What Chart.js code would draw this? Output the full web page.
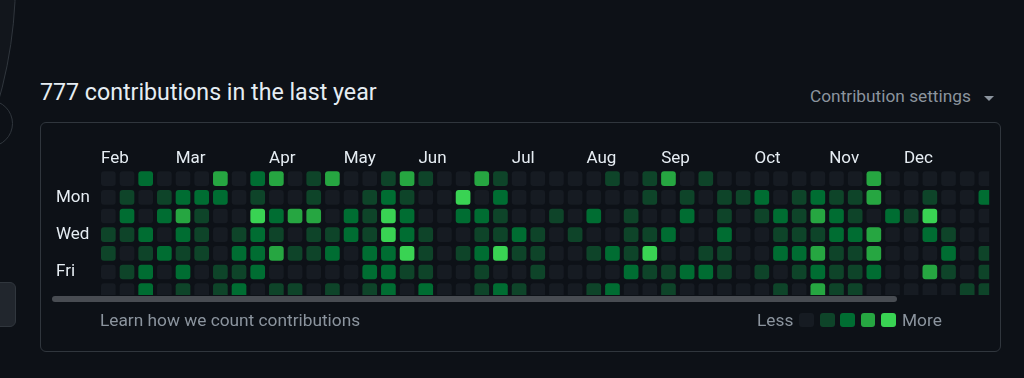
<!DOCTYPE html>
<html>
<head>
<meta charset="utf-8">
<title>Contributions</title>
<script src="https://cdn.jsdelivr.net/npm/chart.js@4/dist/chart.umd.min.js"></script>
<style>
  html, body { margin: 0; padding: 0; width: 1024px; height: 378px; overflow: hidden; background: #0d1117; font-family: Roboto, "Noto Sans", sans-serif; }
  .abs { position: absolute; box-sizing: border-box; }
  #avatar { left: -866px; top: -461px; width: 882px; height: 882px; border-radius: 50%; border: 1px solid #30363d; background: #12161c; }
  #status { left: -34px; top: 100px; width: 47px; height: 47px; border-radius: 50%; border: 1px solid #30363d; }
  #btn { left: -8px; top: 282px; width: 24px; height: 45px; border-radius: 6px; border: 1px solid #30363d; background: #21262d; }
  #box { left: 40px; top: 122px; width: 961px; height: 230px; border: 1px solid #30363d; border-radius: 6px; }
  .txt { white-space: nowrap; line-height: 1; }
  #title { left: 40px; top: 81px; font-size: 23.2px; line-height: 23px; color: #e6edf3; }
  #settings { left: 810px; top: 88px; font-size: 17.3px; line-height: 17px; color: #8b949e; }
  #caret { left: 984px; top: 96px; width: 0; height: 0; border-left: 5.5px solid transparent; border-right: 5.5px solid transparent; border-top: 5.5px solid #8b949e; }
  .small { font-size: 17.3px; line-height: 17.3px; color: #8b949e; top: 312px; }
  #learn { left: 100px; }
  #less { left: 757px; }
  #more { left: 902px; }
  .sw { top: 312.7px; width: 14.7px; height: 14.7px; border-radius: 3px; }
  #scroll { left: 52px; top: 296px; width: 845px; height: 5.5px; border-radius: 3px; background: #484c52; }
  #chart { position: absolute; left: 0; top: 0; }
</style>
</head>
<body>
<div class="abs" id="avatar"></div>
<div class="abs" id="status"></div>
<div class="abs" id="btn"></div>
<div class="abs" id="box"></div>
<div class="abs txt" id="title">777 contributions in the last year</div>
<div class="abs txt" id="settings">Contribution settings</div>
<div class="abs" id="caret"></div>
<canvas id="chart" width="1024" height="378"></canvas>
<div class="abs" id="scroll"></div>
<div class="abs txt small" id="learn">Learn how we count contributions</div>
<div class="abs txt small" id="less">Less</div>
<div class="abs txt small" id="more">More</div>
<script>
  // month label -> week column where it starts
  var months = ['Feb', 'Mar', 'Apr', 'May', 'Jun', 'Jul', 'Aug', 'Sep', 'Oct', 'Nov', 'Dec'];
  var monthStartWeeks = [0, 4, 9, 13, 17, 22, 26, 30, 35, 39, 43];

  var dayLabels = ['Sun', 'Mon', 'Tue', 'Wed', 'Thu', 'Fri', 'Sat'];
  var shownDays = ['Mon', 'Wed', 'Fri'];

  // contribution level (0..4) per week, one array per weekday
  var sunLevels = [0,0,2,0,0,0,3,0,2,3,0,1, 3,0,0,1,3,1,0,0,3,1,0,0, 0,0,0,1,0,1,3,0,1,0,0,0, 0,0,0,0,0,3,0,0,0,0,0,0];
  var monLevels = [0,1,0,1,2,2,2,0,1,0,0,1, 0,0,1,2,1,0,0,4,0,2,0,0, 0,0,0,0,0,1,0,1,0,1,1,2, 0,1,2,1,1,3,0,0,1,0,0,2];
  var tueLevels = [0,2,0,2,3,1,0,0,4,2,3,3, 0,2,1,4,2,0,0,2,2,1,0,0, 1,0,2,0,1,0,0,2,0,1,0,1, 2,1,3,2,1,0,2,1,4,0,0,0];
  var wedLevels = [1,1,2,0,2,1,0,1,2,1,0,1, 1,2,1,4,2,1,0,0,1,1,2,1, 0,1,0,0,1,1,2,0,0,2,0,0, 1,1,1,2,2,3,0,0,2,1,0,0];
  var thuLevels = [1,0,1,2,1,1,0,2,2,3,1,1, 2,0,2,2,4,1,0,1,2,4,1,1, 0,0,1,2,1,4,0,0,1,1,0,0, 2,2,3,1,1,3,0,0,0,2,0,1];
  var friLevels = [0,1,2,0,2,0,1,1,2,0,0,0, 0,0,2,2,1,1,0,0,1,0,0,1, 0,0,0,0,2,1,1,2,2,1,0,1, 0,1,2,1,1,2,0,0,3,1,0,1];
  var satLevels = [0,0,2,0,1,0,1,2,0,1,1,0, 1,0,1,2,0,2,0,0,1,2,1,0, 0,0,1,2,0,0,1,0,0,0,0,0, 1,0,3,1,1,0,0,0,0,0,1,1];

  var levelColors = ['#161b22', '#0e4429', '#006d32', '#26a641', '#39d353'];

  /**
   * legend swatches
   */
  var swatchLeft = [799.3, 820, 840, 860.7, 881];
  levelColors.forEach(function (c, i) {
    var d = document.createElement('div');
    d.className = 'abs sw';
    d.style.left = swatchLeft[i] + 'px';
    d.style.background = c;
    document.body.appendChild(d);
  });

  Chart.defaults.font.family = 'Roboto, "Noto Sans", sans-serif';

  var weeks = sunLevels.map(function (v, i) { return 'W' + (i + 1); });
  var rows = [sunLevels, monLevels, tueLevels, wedLevels, thuLevels, friLevels, satLevels];
  var half = 0.393; // half a cell, in row units

  var datasets = rows.map(function (levels, day) {
    return {
      label: dayLabels[day],
      data: levels.map(function () { return [day - half, day + half]; }),
      backgroundColor: levels.map(function (l) { return levelColors[l]; }),
      borderRadius: 3,
      borderSkipped: false,
      grouped: false,
      categoryPercentage: 1,
      barPercentage: 0.786,
      clip: { left: 0, top: 0, right: -6, bottom: -5 }
    };
  });

  var ctx = document.getElementById('chart').getContext('2d');
  var myChart = new Chart(ctx, {
    type: 'bar',
    data: { labels: weeks, datasets: datasets },
    options: {
      responsive: false,
      animation: false,
      events: [],
      layout: { padding: { left: 56, top: 139.3, right: 28.8, bottom: 78 } },
      plugins: { legend: { display: false }, tooltip: { enabled: false } },
      scales: {
        x: {
          type: 'category',
          position: 'top',
          grid: { display: false, drawTicks: false },
          border: { display: false },
          ticks: {
            autoSkip: false, maxRotation: 0, minRotation: 0,
            align: 'start', labelOffset: -7.3, padding: 0.5,
            color: '#e6edf3', font: { size: 17 },
            callback: function (value, index) {
              var m = monthStartWeeks.indexOf(index);
              return m >= 0 ? months[m] : '';
            }
          },
          afterFit: function (scale) { scale.height = 30; }
        },
        y: {
          type: 'linear',
          reverse: true,
          min: -0.5,
          max: 6.5,
          grid: { display: false, drawTicks: false },
          border: { display: false },
          afterBuildTicks: function (scale) {
            scale.ticks = shownDays.map(function (d) { return { value: dayLabels.indexOf(d) }; });
          },
          ticks: {
            autoSkip: false, crossAlign: 'far', labelOffset: 0,
            color: '#e6edf3', font: { size: 17 },
            callback: function (value) { return dayLabels[value]; }
          },
          afterFit: function (scale) { scale.width = 43; }
        }
      }
    }
  });
</script>
</body>
</html>
